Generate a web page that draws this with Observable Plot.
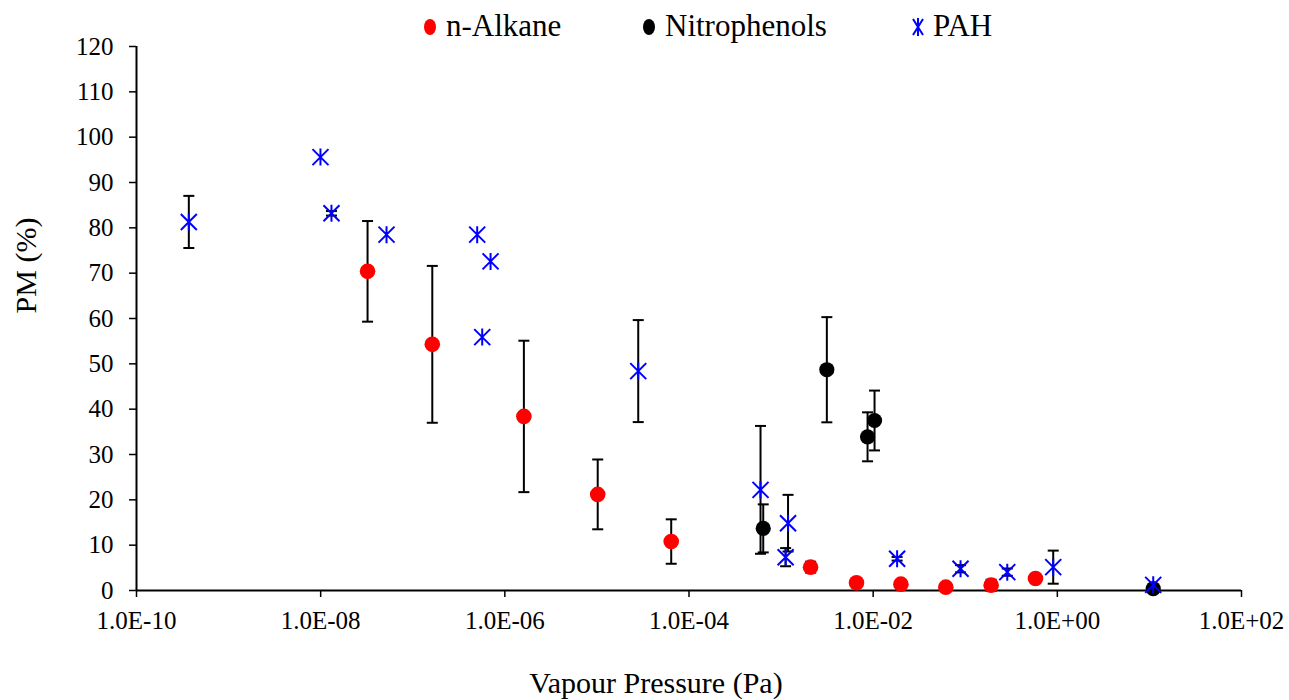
<!DOCTYPE html>
<html>
<head>
<meta charset="utf-8">
<script src="https://cdn.jsdelivr.net/npm/d3@7"></script>
<script src="https://cdn.jsdelivr.net/npm/@observablehq/plot@0.6"></script>
<style>
  html, body { margin: 0; padding: 0; background: #fff; }
  #wrap { position: relative; width: 1289px; height: 700px; font-family: "Liberation Serif", "Times New Roman", serif; }
  #legend { position: absolute; left: 0; top: 0; width: 1289px; height: 50px; }
  .item { position: absolute; top: 8px; font-size: 31px; line-height: 36px; color: #000; white-space: nowrap; font-family: "Liberation Serif", "Times New Roman", serif; }
  svg text { font-family: "Liberation Serif", "Times New Roman", serif; }
</style>
</head>
<body>
<div id="wrap">
  <div id="chart"></div>
  <div id="legend"></div>
</div>
<script>
// Series categories
const seriesNames = ["n-Alkane", "Nitrophenols", "PAH"];
const seriesColors = ["#FF0000", "#000000", "#0000FF"];

// n-Alkane: vapour pressure (Pa), PM (%), error
const vpAlkane  = [3.23e-8, 1.63e-7, 1.61e-6, 1.02e-5, 6.41e-5, 2.09e-3, 6.59e-3, 2.0e-2, 6.15e-2, 0.191, 0.579];
const pmAlkane  = [70.4, 54.3, 38.4, 21.2, 10.8, 5.15, 1.7, 1.4, 0.74, 1.18, 2.65];
const errAlkane = [11.1, 17.3, 16.7, 7.7, 4.9, 1.2, 0, 0, 0, 1.2, 0];

// Nitrophenols
const vpNitro  = [6.40e-4, 3.14e-3, 8.69e-3, 1.035e-2, 11.0];
const pmNitro  = [13.7, 48.7, 33.9, 37.5, 0.4];
const errNitro = [5.3, 11.6, 5.4, 6.6, 0];

// PAH
const vpPAH  = [3.70e-10, 9.95e-9, 1.31e-8, 5.19e-8, 5.01e-7, 7.0e-7, 5.68e-7, 2.81e-5, 5.98e-4, 1.19e-3, 1.12e-3, 1.82e-2, 8.89e-2, 0.286, 0.902, 11.0];
const pmPAH  = [81.3, 95.6, 83.2, 78.5, 78.5, 72.6, 55.9, 48.4, 22.2, 14.85, 7.35, 7.0, 4.8, 4.05, 5.15, 1.25];
const errPAH = [5.75, 0, 0.5, 0, 0, 0, 0, 11.25, 14.1, 6.25, 2, 0.4, 0.8, 0.8, 3.65, 0];

// Axis ticks
const xTicks = [1e-10, 1e-8, 1e-6, 1e-4, 1e-2, 1e0, 1e2];
const yTicks = [0, 10, 20, 30, 40, 50, 60, 70, 80, 90, 100, 110, 120];
const xTitle = "Vapour Pressure (Pa)";
const yTitle = "PM (%)";

function rows(name, vp, pm, err) {
  return vp.map((x, i) => ({series: name, x, y: pm[i], e: err[i]}));
}
const alkane = rows("n-Alkane", vpAlkane, pmAlkane, errAlkane);
const nitro = rows("Nitrophenols", vpNitro, pmNitro, errNitro);
const pah = rows("PAH", vpPAH, pmPAH, errPAH);
const errRows = [...alkane, ...nitro, ...pah].filter(d => d.e > 0);

const fmt = d => {
  const e = Math.round(Math.log10(d));
  return "1.0E" + (e < 0 ? "-" : "+") + String(Math.abs(e)).padStart(2, "0");
};

const capSymbol = { draw(ctx) { ctx.moveTo(-5.5, 0); ctx.lineTo(5.5, 0); } };
const starSymbol = { draw(ctx) {
  const r = 8.5, d = 8;
  ctx.moveTo(0, -r); ctx.lineTo(0, r);
  ctx.moveTo(-d, -d); ctx.lineTo(d, d);
  ctx.moveTo(-d, d); ctx.lineTo(d, -d);
} };

const chart = Plot.plot({
  width: 1289,
  height: 700,
  marginLeft: 136,
  marginRight: 48,
  marginTop: 46,
  marginBottom: 110,
  style: { fontFamily: "'Liberation Serif', 'Times New Roman', serif", fontSize: "25px", color: "#000", background: "#fff" },
  x: { type: "log", domain: [1e-10, 1e2] },
  y: { domain: [0, 120] },
  marks: [
    Plot.axisY({ ticks: yTicks, tickSize: 7, tickPadding: 16, label: null, strokeWidth: 1.5, fontSize: 25 }),
    Plot.axisX({ ticks: xTicks, tickSize: 7, tickPadding: 14, tickFormat: fmt, label: null, strokeWidth: 1.5, fontSize: 25 }),
    Plot.ruleY([0], { stroke: "#000", strokeWidth: 2 }),
    Plot.ruleX([1e-10], { stroke: "#000", strokeWidth: 2 }),
    // error bars
    Plot.ruleX(errRows, { x: "x", y1: d => d.y - d.e, y2: d => d.y + d.e, stroke: "#000", strokeWidth: 2 }),
    Plot.dot(errRows, { x: "x", y: d => d.y - d.e, symbol: capSymbol, stroke: "#000", strokeWidth: 2, fill: "none", r: 5 }),
    Plot.dot(errRows, { x: "x", y: d => d.y + d.e, symbol: capSymbol, stroke: "#000", strokeWidth: 2, fill: "none", r: 5 }),
    // series
    Plot.dot(alkane, { x: "x", y: "y", r: 7.8, fill: seriesColors[0], stroke: "none" }),
    Plot.dot(nitro, { x: "x", y: "y", r: 7.6, fill: seriesColors[1], stroke: "none" }),
    Plot.dot(pah, { x: "x", y: "y", symbol: starSymbol, r: 8, fill: "none", stroke: seriesColors[2], strokeWidth: 2 }),
    // axis titles
    Plot.text([xTitle], { frameAnchor: "bottom", dx: -33, dy: 93, fontSize: 30, lineAnchor: "middle", textAnchor: "middle", fill: "#000" }),
    Plot.text([yTitle], { frameAnchor: "left", dx: -110, dy: -53, rotate: -90, fontSize: 30, lineAnchor: "middle", textAnchor: "middle", fill: "#000" })
  ]
});
document.getElementById("chart").appendChild(chart);

// Legend
const legend = document.getElementById("legend");
const legendPos = [
  { marker: 430, text: 446 },
  { marker: 649, text: 665 },
  { marker: 918, text: 933 }
];
seriesNames.forEach((name, i) => {
  const m = document.createElement("div");
  m.style.position = "absolute";
  m.style.left = (legendPos[i].marker - 10) + "px";
  m.style.top = "15px";
  let inner;
  if (i < 2) {
    inner = `<svg width="20" height="24" viewBox="-10 -12 20 24"><ellipse rx="6" ry="8" fill="${seriesColors[i]}"/></svg>`;
  } else {
    inner = `<svg width="20" height="24" viewBox="-10 -12 20 24"><path d="M0,-9V9M-5,-8L5,8M-5,8L5,-8" stroke="${seriesColors[i]}" stroke-width="2" fill="none"/></svg>`;
  }
  m.innerHTML = inner;
  legend.appendChild(m);
  const t = document.createElement("div");
  t.className = "item";
  t.style.left = legendPos[i].text + "px";
  t.textContent = name;
  legend.appendChild(t);
});
</script>
</body>
</html>
